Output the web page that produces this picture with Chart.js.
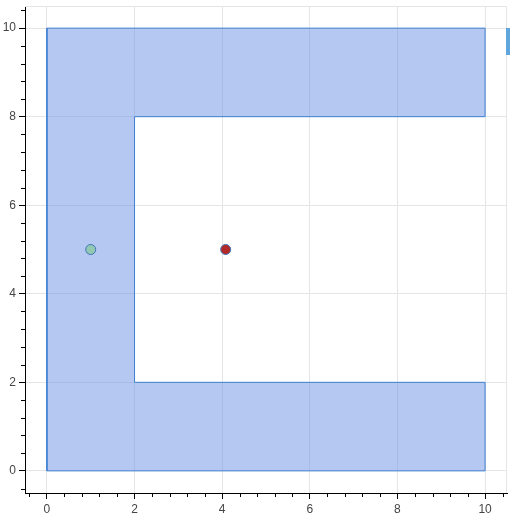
<!DOCTYPE html>
<html>
<head>
<meta charset="utf-8">
<script src="https://cdn.jsdelivr.net/npm/chart.js@4/dist/chart.umd.min.js"></script>
<style>
  html, body { margin: 0; background: #fff; overflow: hidden; }
  #wrap { position: relative; width: 510px; height: 518px; overflow: hidden; }
  #tool { position: absolute; left: 506px; top: 28px; width: 4px; height: 27px; background: #5ea6dc; }
</style>
</head>
<body>
<div id="wrap">
  <canvas id="chart" width="513" height="518"></canvas>
  <div id="tool"></div>
</div>
<script>
// C-shaped polygon outline (closed)
const polyX = [0, 10, 10, 2, 2, 10, 10, 0, 0];
const polyY = [0, 0, 2, 2, 8, 8, 10, 10, 0];

// the two markers
const greenPt = { x: 1, y: 5 };
const redPt = { x: 4.08, y: 5 };

// axes
const xRange = [-0.5, 10.5];
const yRange = [-0.5, 10.5];
const majorTicks = [0, 2, 4, 6, 8, 10];
const minorStep = 0.4;

const polyData = polyX.map((x, i) => ({ x: x, y: polyY[i] }));

// bokeh-ish frame outline + minor ticks
const bokehAxes = {
  id: "bokehAxes",
  afterDraw(chart) {
    const ctx = chart.ctx;
    const a = chart.chartArea;
    ctx.save();
    ctx.strokeStyle = "#e5e5e5";
    ctx.lineWidth = 1;
    ctx.beginPath();
    ctx.moveTo(a.left, a.top + 0.5);
    ctx.lineTo(a.right - 0.5, a.top + 0.5);
    ctx.lineTo(a.right - 0.5, a.bottom);
    ctx.stroke();

    ctx.strokeStyle = "#000";
    const xs = chart.scales.x;
    const ys = chart.scales.y;
    ctx.beginPath();
    for (let v = -0.4; v <= 10.45; v += minorStep) {
      const r = Math.round(v * 10) / 10;
      if (majorTicks.includes(r)) continue;
      const px = Math.round(xs.getPixelForValue(r)) + 0.5;
      ctx.moveTo(px, a.bottom);
      ctx.lineTo(px, a.bottom + 4);
      const py = Math.round(ys.getPixelForValue(r)) + 0.5;
      ctx.moveTo(a.left, py);
      ctx.lineTo(a.left - 4, py);
    }
    ctx.stroke();
    ctx.restore();
  },
};

function axisOpts(range, fit) {
  return {
    type: "linear",
    min: range[0],
    max: range[1],
    afterBuildTicks: (s) => {
      s.ticks = majorTicks.map((v) => ({ value: v }));
    },
    afterFit: (s) => {
      fit(s);
      s.paddingTop = 0;
      s.paddingBottom = 0;
      s.paddingLeft = 0;
      s.paddingRight = 0;
    },
    grid: {
      color: "#e5e5e5",
      tickColor: "#000",
      tickLength: 6,
      lineWidth: 1,
    },
    border: { color: "#000", width: 1 },
    ticks: {
      color: "#444",
      padding: 3,
      maxRotation: 0,
      font: { family: "'Liberation Sans', Arial, sans-serif", size: 12 },
      callback: (v) => String(v),
    },
  };
}

new Chart(document.getElementById("chart"), {
  type: "line",
  data: {
    datasets: [
      {
        type: "scatter",
        data: [redPt],
        backgroundColor: "#b22a28",
        borderColor: "#3d74b8",
        borderWidth: 1,
        pointRadius: 5,
        order: 1,
      },
      {
        type: "scatter",
        data: [greenPt],
        backgroundColor: "#92c9b0",
        borderColor: "#3d74b8",
        borderWidth: 1,
        pointRadius: 5,
        order: 2,
      },
      {
        data: polyData,
        borderColor: "#3f80d0",
        borderWidth: 1,
        backgroundColor: "rgba(108, 145, 230, 0.5)",
        fill: "shape",
        tension: 0,
        pointRadius: 0,
        order: 3,
      },
    ],
  },
  options: {
    responsive: false,
    animation: false,
    devicePixelRatio: 1,
    layout: { padding: { top: 6, right: 0, left: 0, bottom: 0 } },
    plugins: { legend: { display: false }, tooltip: { enabled: false } },
    scales: {
      x: axisOpts(xRange, (s) => { s.height = 25; }),
      y: axisOpts(yRange, (s) => { s.width = 25; }),
    },
  },
  plugins: [bokehAxes],
});
</script>
</body>
</html>
